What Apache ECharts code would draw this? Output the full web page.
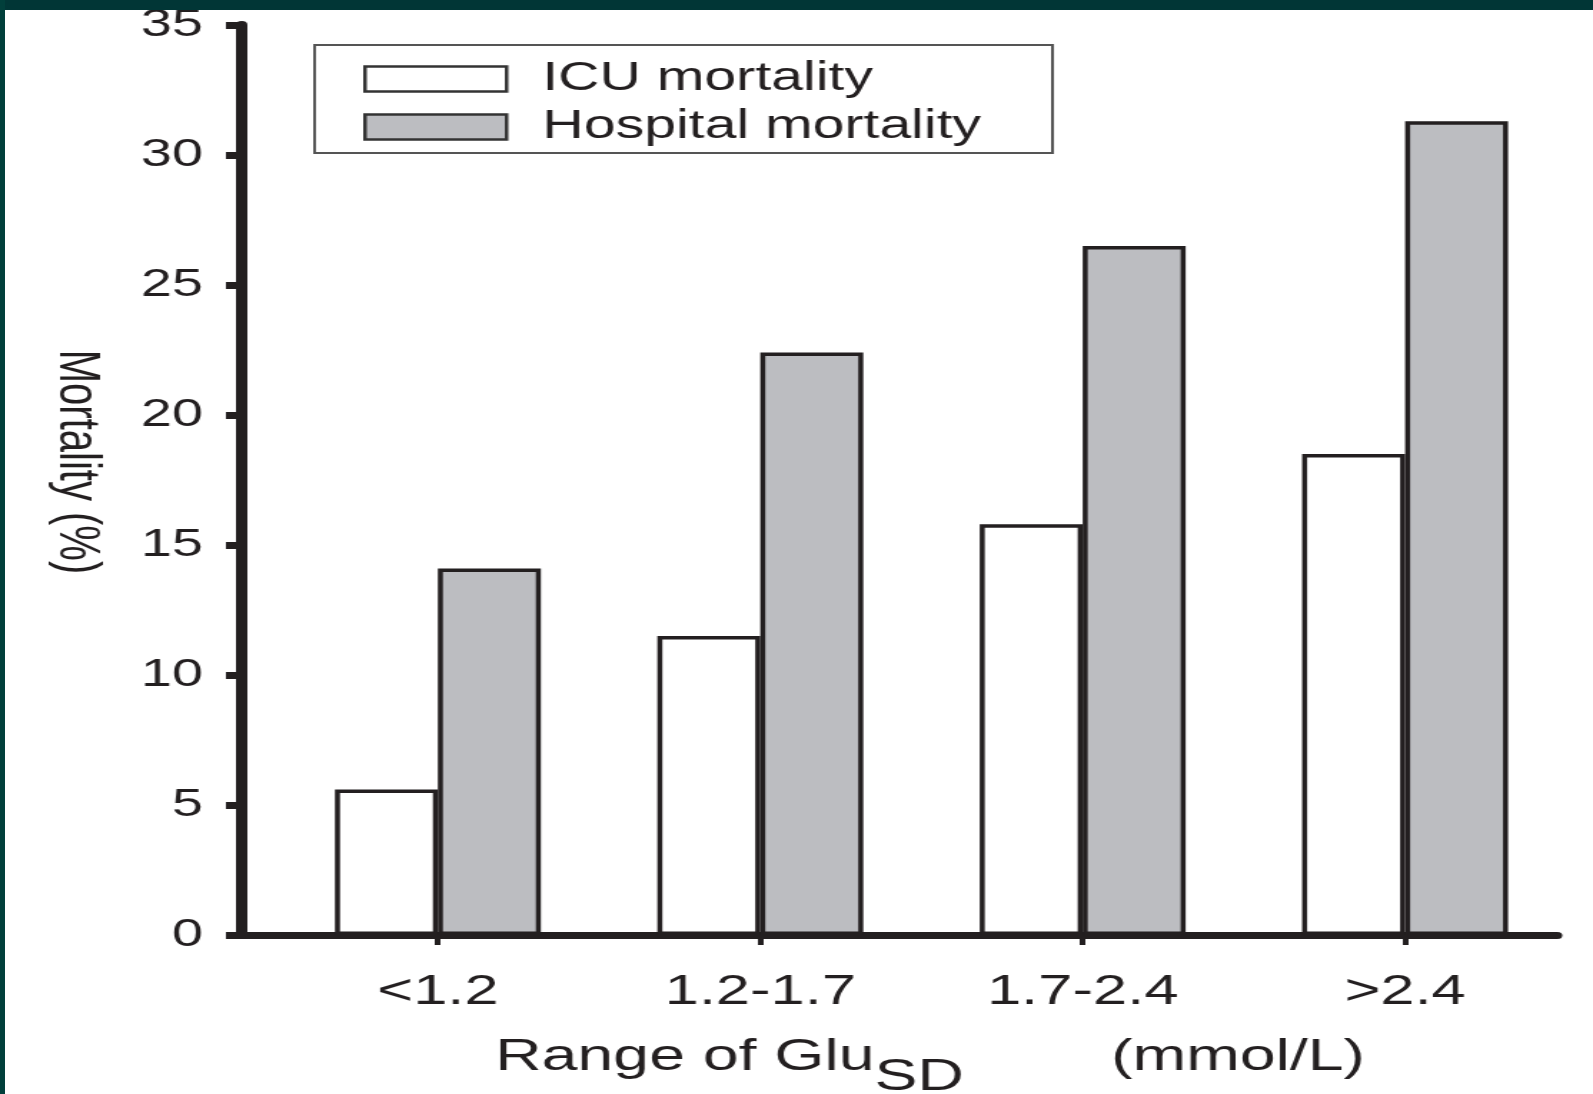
<!DOCTYPE html>
<html>
<head>
<meta charset="utf-8">
<script src="https://cdn.jsdelivr.net/npm/echarts@6/dist/echarts.min.js"></script>
<style>
  html, body { margin: 0; padding: 0; background: #fff; overflow: hidden; }
  #page { position: relative; width: 1593px; height: 1094px; overflow: hidden; }
  /* the figure in the picture is stretched sideways, so the chart is drawn narrow and scaled in x */
  #chart { position: absolute; left: 0; top: 0; width: 1114px; height: 1094px;
           transform: scaleX(1.43); transform-origin: 0 0; }
  .edgeTop { position: absolute; left: 0; top: 0; width: 1593px; height: 10px; background: #013636; }
  .edgeLeft { position: absolute; left: 0; top: 0; width: 5px; height: 1094px; background: #013f3b; }
</style>
</head>
<body>
<div id="page">
  <div id="chart"></div>
  <div class="edgeTop"></div>
  <div class="edgeLeft"></div>
</div>
<script>
// data
var categories = ['<1.2', '1.2-1.7', '1.7-2.4', '>2.4'];
var icuMortality = [5.6, 11.5, 15.8, 18.5];
var hospitalMortality = [14.1, 22.4, 26.5, 31.3];
var yMin = 0, yMax = 35, yStep = 5;

var ink = '#231f20';
var font = 'Liberation Sans, Arial, sans-serif';

var myChart = echarts.init(document.getElementById('chart'));

var option = {
    animation: false,
    backgroundColor: 'transparent',
    textStyle: { fontFamily: font, color: ink },
    legend: {
        data: ['ICU mortality', 'Hospital mortality'],
        orient: 'vertical',
        left: 220,
        top: 45,
        padding: [14, 50, 6, 34],
        itemGap: 8,
        itemWidth: 99,
        itemHeight: 25,
        icon: 'rect',
        borderColor: '#555',
        borderWidth: 2,
        itemStyle: { borderColor: '#333', borderWidth: 2.5 },
        textStyle: { fontSize: 40, color: ink, fontFamily: font, padding: [0, 0, 0, 20] }
    },
    grid: [
        // grid holding the visible axis frame
        { left: 169, right: 25, top: 25, bottom: 159, outerBoundsMode: 'none' },
        // grid holding the bars
        { left: 193.5, right: 18.7, top: 25, bottom: 159, outerBoundsMode: 'none' }
    ],
    xAxis: [
        {
            gridIndex: 0,
            type: 'category',
            data: categories,
            axisLine: { show: true, lineStyle: { color: ink, width: 7 } },
            axisTick: { show: false },
            axisLabel: { show: false },
            splitLine: { show: false }
        },
        {
            gridIndex: 1,
            type: 'category',
            data: categories,
            axisLine: { show: false },
            axisTick: { show: true, alignWithLabel: true, length: 10, lineStyle: { color: ink, width: 4 } },
            axisLabel: { fontSize: 43, color: ink, fontFamily: font, margin: 36 },
            splitLine: { show: false },
            name: '{a|Range of Glu}{s|SD}{g| }{a|(mmol/L)}',
            nameLocation: 'middle',
            nameGap: 100,
            nameTextStyle: {
                padding: [0, 0, 0, 12],
                rich: {
                    a: { fontSize: 45, height: 45, lineHeight: 45, verticalAlign: 'top', color: ink, fontFamily: font },
                    s: { fontSize: 45, height: 45, lineHeight: 65, verticalAlign: 'bottom', color: ink, fontFamily: font },
                    g: { width: 103, fontSize: 45, height: 45, lineHeight: 45, verticalAlign: 'top' }
                }
            }
        }
    ],
    yAxis: [
        {
            gridIndex: 0,
            type: 'value',
            min: yMin,
            max: yMax,
            interval: yStep,
            axisLine: { show: true, lineStyle: { color: ink, width: 8 } },
            axisTick: { show: true, length: 11, lineStyle: { color: ink, width: 7 } },
            axisLabel: { fontSize: 39, color: ink, fontFamily: font, margin: 27 },
            splitLine: { show: false },
            name: 'Mortality (%)',
            nameLocation: 'middle',
            nameRotate: -90,
            nameGap: 96,
            nameTextStyle: { fontSize: 40, color: ink, fontFamily: font, padding: [0, 36, 0, 0] }
        },
        {
            gridIndex: 1,
            type: 'value',
            min: yMin,
            max: yMax,
            interval: yStep,
            show: false
        }
    ],
    series: [
        {
            name: 'ICU mortality',
            type: 'bar',
            xAxisIndex: 1,
            yAxisIndex: 1,
            data: icuMortality,
            barWidth: 72,
            barGap: '0%',
            itemStyle: { color: '#ffffff', borderColor: ink, borderWidth: 3.5 }
        },
        {
            name: 'Hospital mortality',
            type: 'bar',
            xAxisIndex: 1,
            yAxisIndex: 1,
            data: hospitalMortality,
            barWidth: 72,
            barGap: '0%',
            itemStyle: { color: '#bcbdc1', borderColor: ink, borderWidth: 3.5 }
        }
    ]
};

myChart.setOption(option);
</script>
</body>
</html>
